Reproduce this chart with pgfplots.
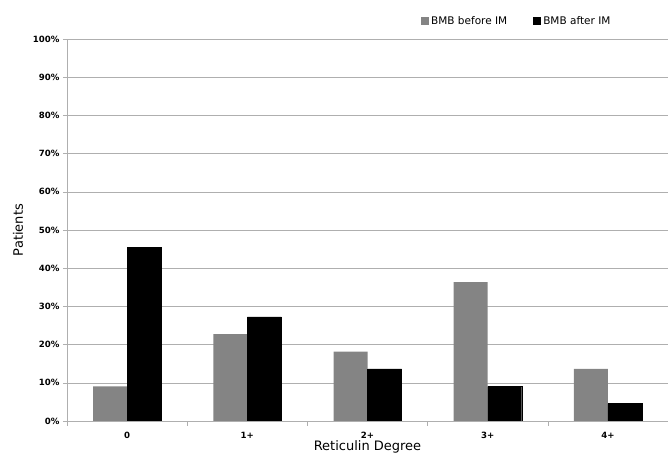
\documentclass[border=0pt]{standalone}
\usepackage{pgfplots}
\pgfplotsset{compat=1.18}
\usepackage{fontspec}
\setmainfont{DejaVu Sans}
\definecolor{before}{RGB}{132,132,132}
\definecolor{gridc}{RGB}{175,175,175}

% share of 22 patients per reticulin degree
\pgfplotstableread{
x before after
0 9.09  45.45
1 22.73 27.27
2 18.18 13.64
3 36.36 9.09
4 13.64 4.55
}\datatable

\begin{document}
\begin{tikzpicture}
\begin{axis}[
    at={(0,0)}, anchor=south west,
    scale only axis,
    width=601pt, height=382pt,
    ybar=0pt,
    bar width=34pt,
    xmin=-0.5, xmax=4.5,
    ymin=0, ymax=100,
    xtick={0,1,2,3,4},
    xticklabels={0,1+,2+,3+,4+},
    minor xtick={-0.5,0.5,1.5,2.5,3.5,4.5},
    major x tick style={draw=none},
    minor x tick style={gridc, thin},
    minor tick length=5pt,
    ytick={0,10,...,100},
    yticklabel={\pgfmathprintnumber{\tick}\%},
    y tick style={gridc, thin},
    tick align=outside,
    major tick length=4pt,
    ymajorgrids,
    major grid style={gridc, thin},
    axis lines*=left,
    axis line style={gridc, thin},
    /pgf/number format/assume math mode=true,
    ticklabel style={font=\bfseries\fontsize{8.6}{10}\selectfont},
    xticklabel style={yshift=-4pt},
    xlabel={Reticulin Degree},
    ylabel={Patients},
    label style={font=\fontsize{13}{15}\selectfont},
    xlabel style={at={(axis description cs:0.5,-0.068)}, anchor=center},
    ylabel style={at={(axis description cs:-0.0815,0.5)}, anchor=center, rotate=0},
    legend columns=2,
    legend style={at={(0.584,1)}, anchor=south west, yshift=9pt, draw=none,
        font=\fontsize{10.5}{12}\selectfont,
        /tikz/every even column/.append style={column sep=24pt}},
    legend image code/.code={\draw[#1,draw=none] (0pt,-4pt) rectangle (8pt,4pt);},
]
\addplot[fill=before, draw=none] table[x=x, y=before] {\datatable};
\addplot[fill=black, draw=black] table[x=x, y=after] {\datatable};
\legend{BMB before IM, BMB after IM}
\end{axis}
\pgfresetboundingbox
\path (-67pt,-36pt) rectangle (601pt,421pt);
\end{tikzpicture}
\end{document}
